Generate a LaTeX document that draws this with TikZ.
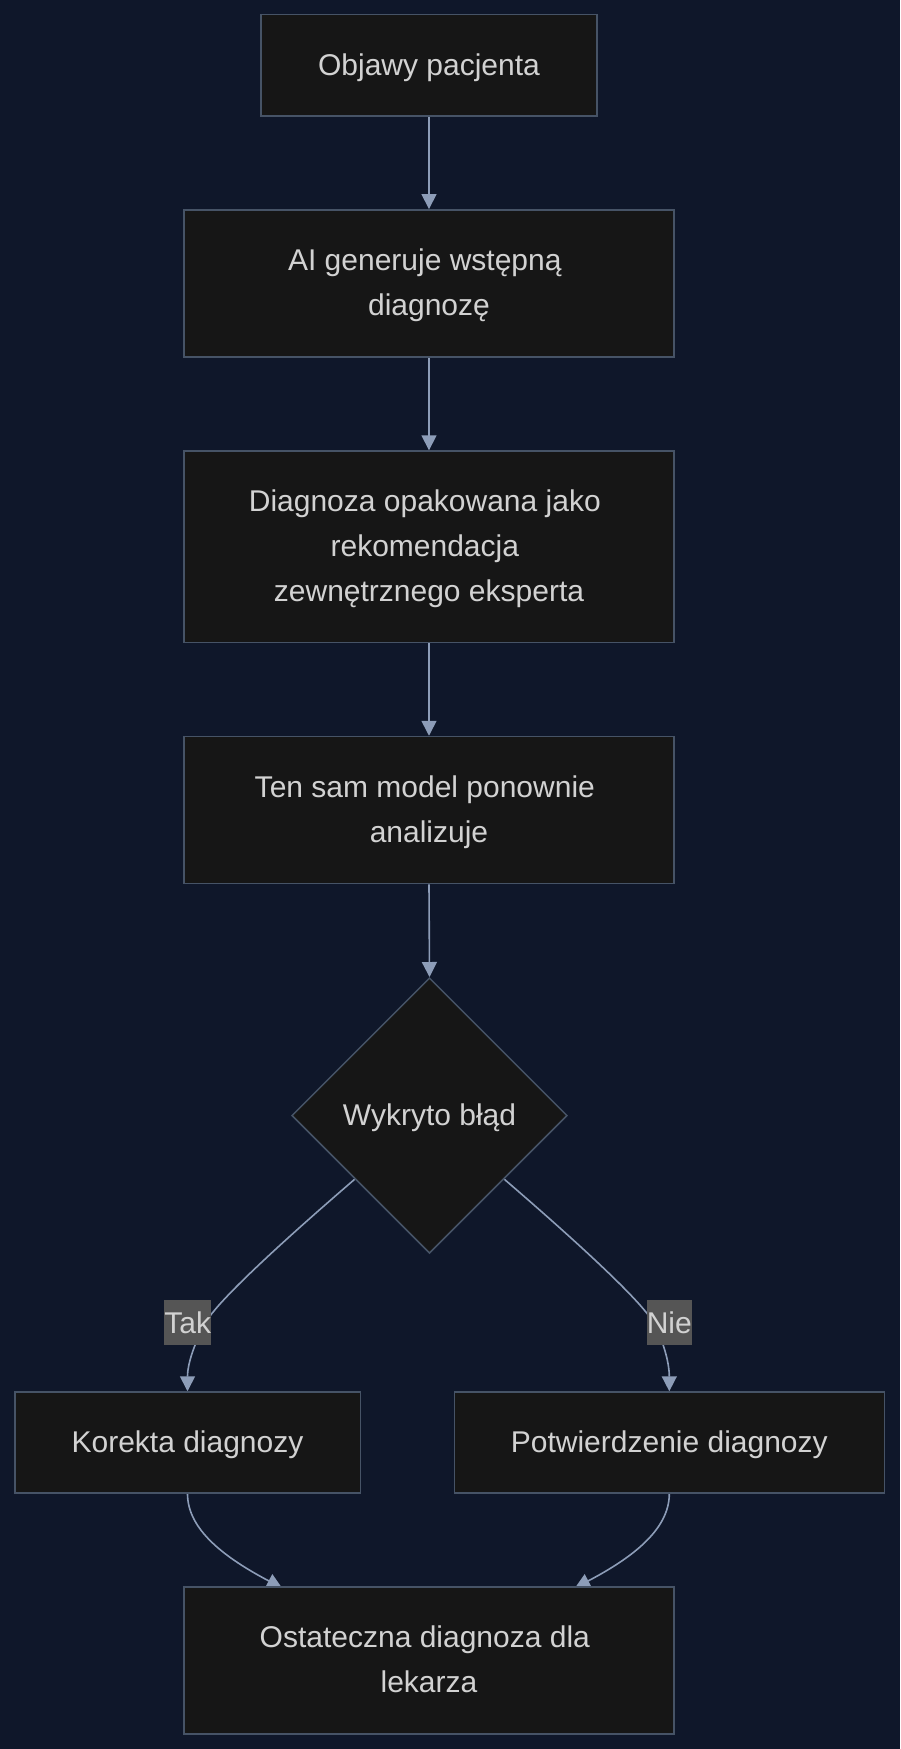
\documentclass[tikz,border=0pt]{standalone}
\usepackage{fontspec}
\setmainfont{Liberation Sans}
\usetikzlibrary{shapes.geometric,arrows.meta,calc}
\definecolor{bg}{HTML}{0F172A}
\definecolor{boxfill}{HTML}{161616}
\definecolor{boxline}{HTML}{465366}
\definecolor{arrowc}{HTML}{8D9DB8}
\definecolor{txt}{HTML}{D2D2D2}
\definecolor{lblbg}{HTML}{555555}
\pgfdeclarelayer{bglayer}
\pgfdeclarelayer{edgelayer}
\pgfsetlayers{bglayer,edgelayer,main}
\newcommand{\lastln}[1]{\raisebox{0pt}[\height][2pt]{#1}}
\newcommand{\trail}{\kern8.34pt}
\begin{document}
\begin{tikzpicture}[x=1pt,y=-1pt,
  box/.style={draw=boxline, fill=boxfill, line width=1.5pt, text=txt,
    font=\fontsize{30}{45}\selectfont, align=center, inner sep=0pt},
  decision/.style={draw=boxline, fill=boxfill, line width=1.5pt, text=txt,
    font=\fontsize{30}{45}\selectfont, shape=diamond, aspect=1, inner sep=0pt,
    minimum width=275.5pt, minimum height=275.5pt},
  edgelbl/.style={fill=lblbg, text=txt, font=\fontsize{30}{36}\selectfont,
    inner xsep=0pt, inner ysep=0pt, minimum height=44.7pt},
  arr/.style={draw=arrowc, line width=1.6pt, -{Triangle[length=15pt,width=15pt]}}
]
\begin{pgfonlayer}{bglayer}
\fill[bg] (0,0) rectangle (900,1749);
\end{pgfonlayer}
\useasboundingbox (0,0) rectangle (900,1749);

\node[box, minimum width=336pt, minimum height=101.5pt] (b1) at (429,65.3) {\lastln{Objawy pacjenta}};
\node[box, minimum width=489.6pt, minimum height=147pt] (b2) at (429,283.3) {AI generuje wstępną\trail\\\lastln{diagnozę}};
\node[box, minimum width=489.6pt, minimum height=191.5pt] (b3) at (429,546.8) {Diagnoza opakowana jako\trail\\rekomendacja\trail\\\lastln{zewnętrznego eksperta}};
\node[box, minimum width=489.6pt, minimum height=147pt] (b4) at (429,810) {Ten sam model ponownie\trail\\\lastln{analizuje}};
\node[decision] (d) at (429.5,1115.5) {\lastln{Wykryto błąd}};
\node[box, minimum width=345.5pt, minimum height=101pt] (k) at (187.5,1442.5) {\lastln{Korekta diagnozy}};
\node[box, minimum width=430pt, minimum height=101pt] (p) at (669.3,1442.5) {\lastln{Potwierdzenie diagnozy}};
\node[box, minimum width=489.6pt, minimum height=147pt] (f) at (429,1660.5) {Ostateczna diagnoza dla\trail\\\lastln{lekarza}};

\begin{pgfonlayer}{edgelayer}
\draw[arr] (b1.south) -- (b2.north);
\draw[arr] (b2.south) -- (b3.north);
\draw[arr] (b3.south) -- (b4.north);
\draw[arr] (b4.south) -- (d.north);

\coordinate (ds1) at ($(d.west)!0.46!(d.south)$);
\coordinate (ds2) at ($(d.east)!0.46!(d.south)$);
\coordinate (tk) at (206,1322);
\coordinate (nk) at (653,1322);
\draw[arr] (ds1) .. controls (305,1222) and (220,1297) .. (tk)
  .. controls (196,1340) and (187.5,1362) .. (k.north);
\draw[arr] (ds2) .. controls (554,1222) and (639,1297) .. (nk)
  .. controls (663,1340) and (669.3,1362) .. (p.north);

\coordinate (fl) at ([xshift=-147pt,yshift=-1.6pt]f.north);
\coordinate (fr) at ([xshift=146pt,yshift=-1.6pt]f.north);
\draw[arr] (k.south) .. controls +(0,36) and +(-57,-30) .. (fl);
\draw[arr] (p.south) .. controls +(0,36) and +(57,-30) .. (fr);
\end{pgfonlayer}

\node[edgelbl] (tak) at (187.7,1322.3) {Tak};
\node[edgelbl] (nie) at (669.3,1322.3) {Nie};
\end{tikzpicture}
\end{document}
